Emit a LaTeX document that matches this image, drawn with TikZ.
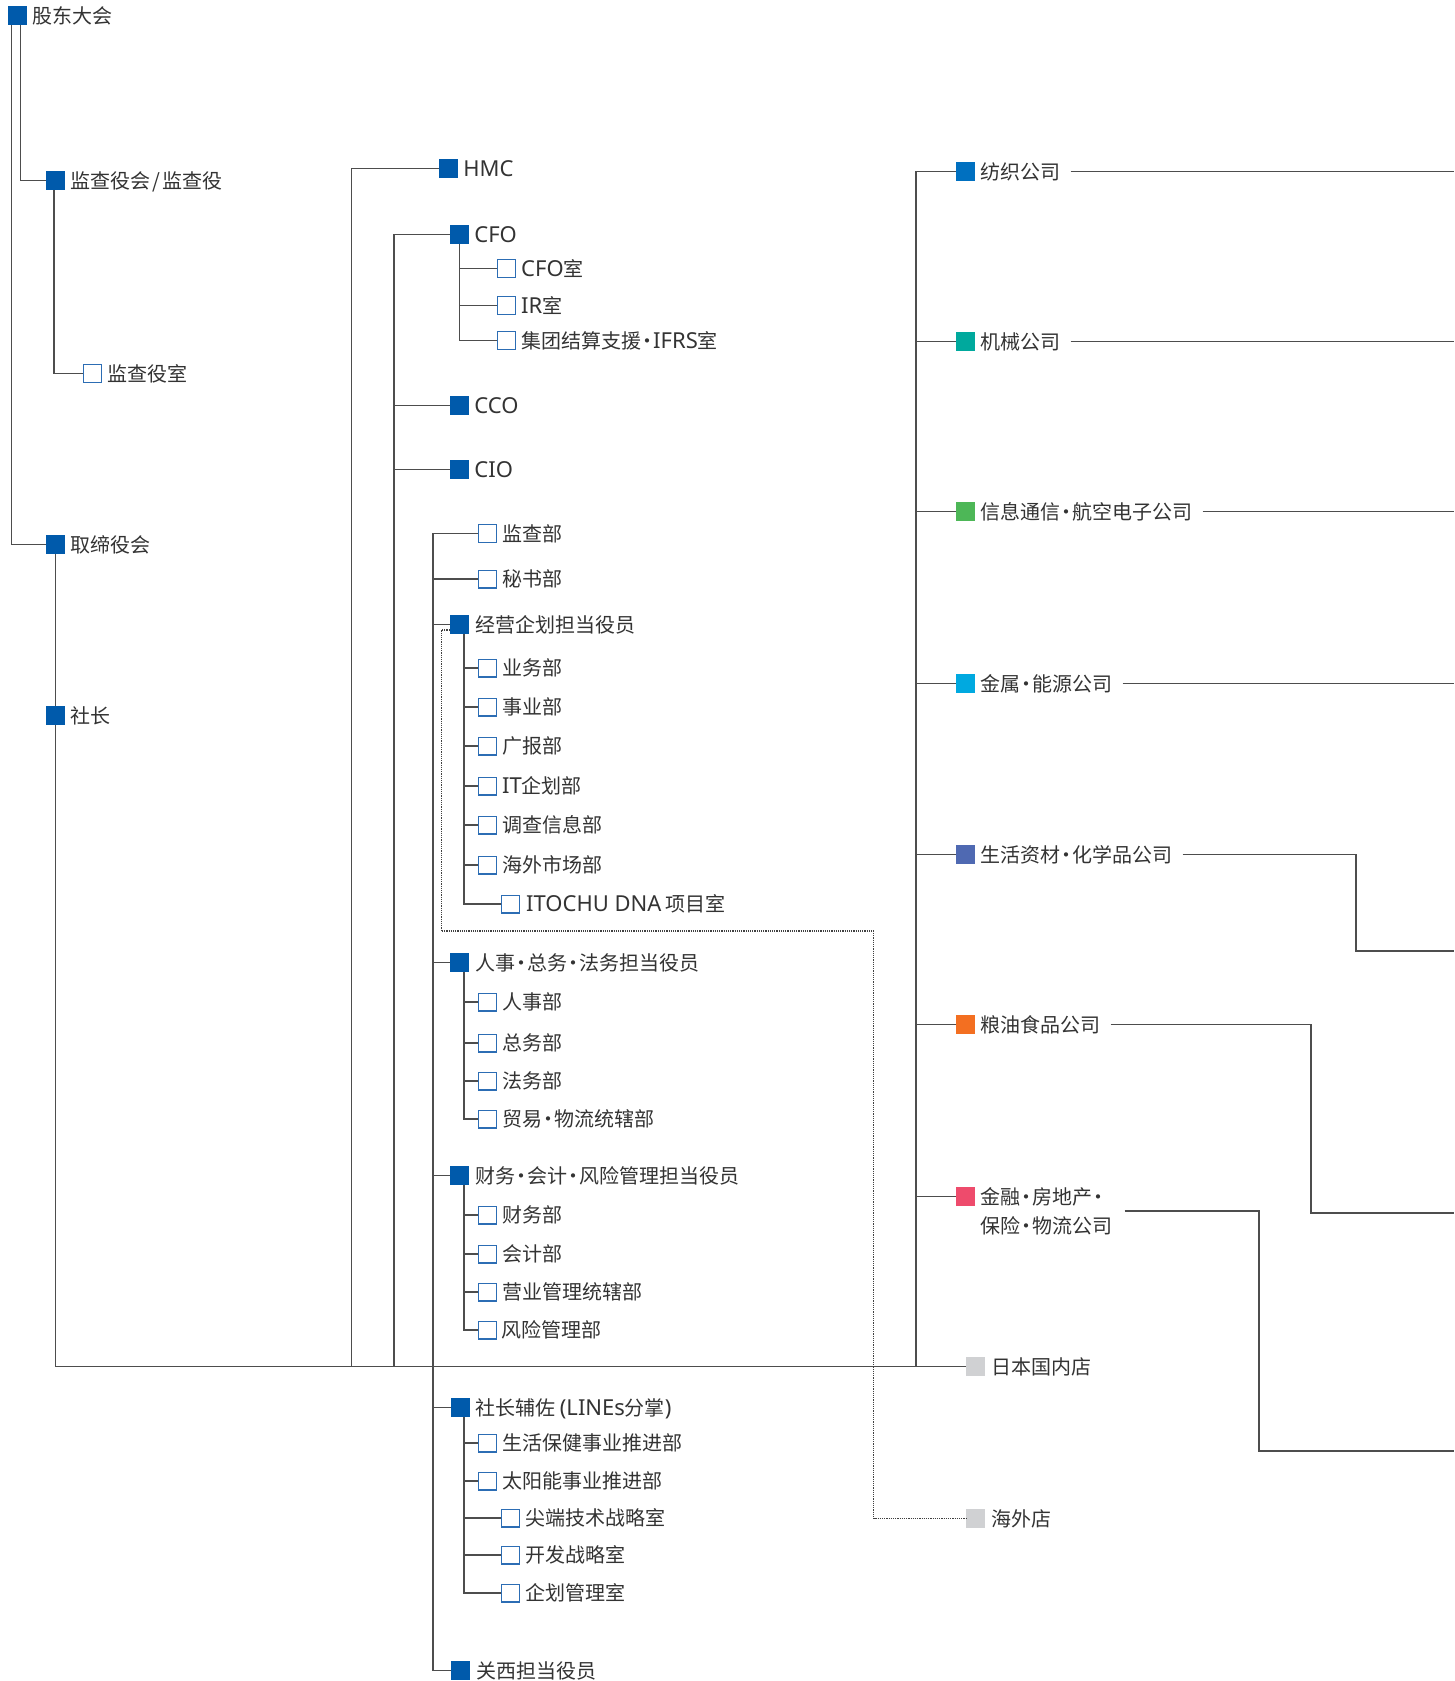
\documentclass[tikz,border=0pt]{standalone}
\usepackage{fontspec}
\setmainfont{Noto Sans CJK SC}
\newfontfamily\lat[Scale=1.1]{Noto Sans}
\usetikzlibrary{positioning}

\definecolor{itcblue}{HTML}{005AAB}
\definecolor{boxblue}{HTML}{2C6DB4}
\definecolor{linegray}{HTML}{4D4D4D}
\definecolor{txtgray}{HTML}{333333}
\definecolor{cfibre}{HTML}{0070C0}
\definecolor{cmach}{HTML}{00A99D}
\definecolor{cict}{HTML}{4DB757}
\definecolor{cmetal}{HTML}{00A9E0}
\definecolor{cchem}{HTML}{4F69B2}
\definecolor{cfood}{HTML}{F36F21}
\definecolor{cfin}{HTML}{EE4B6C}
\definecolor{cshop}{HTML}{D0D1D3}

% narrow middle dot
\newcommand{\mdot}{\makebox[0.6em]{·}}

\tikzset{
  headbox/.style={fill=itcblue, minimum size=19pt, inner sep=0pt},
  deptbox/.style={draw=boxblue, line width=1.4pt, fill=white, minimum size=17.6pt, inner sep=0pt},
  cobox/.style={fill=#1, minimum size=19pt, inner sep=0pt},
  lbl/.style={text=txtgray, inner sep=0pt, font=\fontsize{20pt}{29pt}\selectfont,
    text height=16.8pt, text depth=1.7pt},
  lbltwo/.style={text=txtgray, inner sep=0pt, font=\fontsize{20pt}{29pt}\selectfont, align=left},
  conn/.style={draw=linegray, line width=1.2pt},
  dotline/.style={draw=linegray!85!black, line width=1.2pt, densely dotted}
}

\begin{document}
\begin{tikzpicture}[x=1pt, y=-1pt]
    \useasboundingbox (0,0) rectangle (1454,1681);

    % shareholders, auditors, board
    \node[headbox] (gd) at (17.5,15.5) {};
    \node[lbl, right=5pt of gd] {股东大会};
    \node[headbox] (jsh) at (55.5,180.5) {};
    \node[lbl, right=5pt of jsh] {监查役会\kern2pt/\kern2pt监查役};
    \node[deptbox] (jss) at (92.5,373.5) {};
    \node[lbl, right=5pt of jss] {监查役室};
    \node[headbox] (qdh) at (55.5,544.5) {};
    \node[lbl, right=5pt of qdh] {取缔役会};
    \node[headbox] (sz) at (55.5,715.5) {};
    \node[lbl, right=5pt of sz] {社长};

    % officers
    \node[headbox] (hmc) at (448.5,168.5) {};
    \node[lbl, right=5pt of hmc] {\lat HMC};
    \node[headbox] (cfo) at (459.5,234.5) {};
    \node[lbl, right=5pt of cfo] {\lat CFO};
    \node[deptbox] (cfoshi) at (506.5,268.5) {};
    \node[lbl, right=5pt of cfoshi] {{\lat CFO}室};
    \node[deptbox] (irshi) at (506.5,305.5) {};
    \node[lbl, right=5pt of irshi] {{\lat IR}室};
    \node[deptbox] (ifrs) at (506.5,340.5) {};
    \node[lbl, right=5pt of ifrs] {集团结算支援\mdot{\lat IFRS}室};
    \node[headbox] (cco) at (459.5,405.5) {};
    \node[lbl, right=5pt of cco] {\lat CCO};
    \node[headbox] (cio) at (459.5,469.5) {};
    \node[lbl, right=5pt of cio] {\lat CIO};

    \node[deptbox] (jcb) at (487.5,533.5) {};
    \node[lbl, right=5pt of jcb] {监查部};
    \node[deptbox] (msb) at (487.5,579) {};
    \node[lbl, right=5pt of msb] {秘书部};

    \node[headbox] (jyqh) at (459.5,624.5) {};
    \node[lbl, right=6pt of jyqh] {经营企划担当役员};
    \node[deptbox] (ywb) at (487.5,668) {};
    \node[lbl, right=5pt of ywb] {业务部};
    \node[deptbox] (syb) at (487.5,707) {};
    \node[lbl, right=5pt of syb] {事业部};
    \node[deptbox] (gbb) at (487.5,746) {};
    \node[lbl, right=5pt of gbb] {广报部};
    \node[deptbox] (itb) at (487.5,786) {};
    \node[lbl, right=5pt of itb] {{\lat IT}企划部};
    \node[deptbox] (dcb) at (487.5,825) {};
    \node[lbl, right=5pt of dcb] {调查信息部};
    \node[deptbox] (hwsc) at (487.5,865) {};
    \node[lbl, right=5pt of hwsc] {海外市场部};
    \node[deptbox] (dna) at (510.5,904) {};
    \node[lbl, right=6pt of dna] {{\lat ITOCHU DNA} 项目室};

    \node[headbox] (rs) at (459.5,962.5) {};
    \node[lbl, right=6pt of rs] {人事\mdot 总务\mdot 法务担当役员};
    \node[deptbox] (rsb) at (487.5,1002) {};
    \node[lbl, right=5pt of rsb] {人事部};
    \node[deptbox] (zwb) at (487.5,1043) {};
    \node[lbl, right=5pt of zwb] {总务部};
    \node[deptbox] (fwb) at (487.5,1081) {};
    \node[lbl, right=5pt of fwb] {法务部};
    \node[deptbox] (myb) at (487.5,1119) {};
    \node[lbl, right=5pt of myb] {贸易\mdot 物流统辖部};

    \node[headbox] (cw) at (459.5,1175.5) {};
    \node[lbl, right=6pt of cw] {财务\mdot 会计\mdot 风险管理担当役员};
    \node[deptbox] (cwb) at (487.5,1215) {};
    \node[lbl, right=5pt of cwb] {财务部};
    \node[deptbox] (kjb) at (487.5,1254) {};
    \node[lbl, right=5pt of kjb] {会计部};
    \node[deptbox] (yyb) at (487.5,1292) {};
    \node[lbl, right=5pt of yyb] {营业管理统辖部};
    \node[deptbox] (fxb) at (487.5,1330) {};
    \node[lbl, right=4pt of fxb] {风险管理部};

    \node[headbox] (szfz) at (460.5,1407.5) {};
    \node[lbl, right=5pt of szfz] {社长辅佐 {\lat (LINEs}分掌{\lat )}};
    \node[deptbox] (shbj) at (487.5,1443) {};
    \node[lbl, right=5pt of shbj] {生活保健事业推进部};
    \node[deptbox] (tyn) at (487.5,1481) {};
    \node[lbl, right=5pt of tyn] {太阳能事业推进部};
    \node[deptbox] (jdjs) at (510.5,1518) {};
    \node[lbl, right=5pt of jdjs] {尖端技术战略室};
    \node[deptbox] (kfzl) at (510.5,1555) {};
    \node[lbl, right=5pt of kfzl] {开发战略室};
    \node[deptbox] (qhgl) at (510.5,1593) {};
    \node[lbl, right=5pt of qhgl] {企划管理室};

    \node[headbox] (kx) at (460.5,1670.5) {};
    \node[lbl, right=6pt of kx] {关西担当役员};

    % division companies and branches
    \node[cobox=cfibre] (fz) at (965.5,171.5) {};
    \node[lbl, right=5pt of fz] (fz-t) {纺织公司};
    \node[cobox=cmach] (jx) at (965.5,341.5) {};
    \node[lbl, right=5pt of jx] (jx-t) {机械公司};
    \node[cobox=cict] (xx) at (965.5,511.5) {};
    \node[lbl, right=5pt of xx] (xx-t) {信息通信\mdot 航空电子公司};
    \node[cobox=cmetal] (js) at (965.5,683.5) {};
    \node[lbl, right=5pt of js] (js-t) {金属\mdot 能源公司};
    \node[cobox=cchem] (sh) at (965.5,854.5) {};
    \node[lbl, right=5pt of sh] (sh-t) {生活资材\mdot 化学品公司};
    \node[cobox=cfood] (ly) at (965.5,1024.5) {};
    \node[lbl, right=5pt of ly] (ly-t) {粮油食品公司};
    \node[cobox=cfin] (jr) at (965.5,1196.5) {};
    \node[lbltwo, right=5pt of jr, yshift=-14.5pt] (jr-t) {金融\mdot 房地产\mdot\\保险\mdot 物流公司};
    \node[cobox=cshop] (nin) at (975.5,1366.5) {};
    \node[lbl, right=6pt of nin] {日本国内店};
    \node[cobox=cshop] (hw) at (975.5,1518.5) {};
    \node[lbl, right=6pt of hw] {海外店};

    \coordinate (hub-hmc) at (351.5,1366.5);
    \coordinate (hub-cfo) at (394,1366.5);
    \coordinate (spine) at (433,533.5);
    \coordinate (hub-co) at (916,1366.5);
    \coordinate (dotcorner) at (873.5,931);
    \coordinate (edge) at (1454,0);
    \coordinate (jyqh-l) at ([xshift=4.5pt]jyqh.south);
    \coordinate (rs-l) at ([xshift=4.5pt]rs.south);
    \coordinate (cw-l) at ([xshift=4.5pt]cw.south);
    \coordinate (szfz-l) at ([xshift=3.5pt]szfz.south);

    % left tree
    \draw[conn] ([xshift=4pt]gd.south west) |- (qdh.west);
    \draw[conn] ([xshift=13pt]gd.south west) |- (jsh.west);
    \draw[conn] ([xshift=-1.5pt]jsh.south) |- (jss.west);
    \draw[conn] (qdh.south) -- (sz.north);
    \draw[conn] (sz.south) |- (nin.west);

    % officer lines
    \draw[conn] (hmc.west) -| (hub-hmc);
    \draw[conn] (cfo.west) -| (hub-cfo);
    \draw[conn] (cco.west) -- (cco.west -| hub-cfo);
    \draw[conn] (cio.west) -- (cio.west -| hub-cfo);
    \draw[conn] (cfo.south) |- (ifrs.west);
    \draw[conn] (cfoshi.west) -- (cfoshi.west -| cfo.south);
    \draw[conn] (irshi.west) -- (irshi.west -| cfo.south);

    \draw[conn] (jcb.west) -- (spine) |- (kx.west);
    \draw[conn] (msb.west) -- (msb.west -| spine);
    \draw[conn] (jyqh.west) -- (jyqh.west -| spine);
    \draw[conn] (rs.west) -- (rs.west -| spine);
    \draw[conn] (cw.west) -- (cw.west -| spine);
    \draw[conn] (szfz.west) -- (szfz.west -| spine);

    \draw[conn] (jyqh-l) |- (dna.west);
    \draw[conn] (ywb.west) -- (ywb.west -| jyqh-l);
    \draw[conn] (syb.west) -- (syb.west -| jyqh-l);
    \draw[conn] (gbb.west) -- (gbb.west -| jyqh-l);
    \draw[conn] (itb.west) -- (itb.west -| jyqh-l);
    \draw[conn] (dcb.west) -- (dcb.west -| jyqh-l);
    \draw[conn] (hwsc.west) -- (hwsc.west -| jyqh-l);

    \draw[conn] (rs-l) |- (myb.west);
    \draw[conn] (rsb.west) -- (rsb.west -| rs-l);
    \draw[conn] (zwb.west) -- (zwb.west -| rs-l);
    \draw[conn] (fwb.west) -- (fwb.west -| rs-l);

    \draw[conn] (cw-l) |- (fxb.west);
    \draw[conn] (cwb.west) -- (cwb.west -| cw-l);
    \draw[conn] (kjb.west) -- (kjb.west -| cw-l);
    \draw[conn] (yyb.west) -- (yyb.west -| cw-l);

    \draw[conn] (szfz-l) |- (qhgl.west);
    \draw[conn] (shbj.west) -- (shbj.west -| szfz-l);
    \draw[conn] (tyn.west) -- (tyn.west -| szfz-l);
    \draw[conn] (jdjs.west) -- (jdjs.west -| szfz-l);
    \draw[conn] (kfzl.west) -- (kfzl.west -| szfz-l);

    % overseas branches
    \draw[dotline] ([yshift=-5.5pt]jyqh.west) -- ++(-8.5,0) |- (dotcorner) |- (hw.west);

    % companies
    \draw[conn] (fz.west) -| (hub-co);
    \draw[conn] (jx.west) -- (jx.west -| hub-co);
    \draw[conn] (xx.west) -- (xx.west -| hub-co);
    \draw[conn] (js.west) -- (js.west -| hub-co);
    \draw[conn] (sh.west) -- (sh.west -| hub-co);
    \draw[conn] (ly.west) -- (ly.west -| hub-co);
    \draw[conn] (jr.west) -- (jr.west -| hub-co);

    \draw[conn] ([xshift=10pt]fz-t.east) -- (fz-t.east -| edge);
    \draw[conn] ([xshift=10pt]jx-t.east) -- (jx-t.east -| edge);
    \draw[conn] ([xshift=10pt]xx-t.east) -- (xx-t.east -| edge);
    \draw[conn] ([xshift=10pt]js-t.east) -- (js-t.east -| edge);
    \coordinate (sh-bend) at (1356,951);
    \draw[conn] ([xshift=10pt]sh-t.east) -| (sh-bend) -- (sh-bend -| edge);
    \coordinate (ly-bend) at (1311,1213);
    \draw[conn] ([xshift=10pt]ly-t.east) -| (ly-bend) -- (ly-bend -| edge);
    \coordinate (jr-bend) at (1259,1451);
    \draw[conn] ([xshift=12pt]jr-t.east) -| (jr-bend) -- (jr-bend -| edge);
\end{tikzpicture}
\end{document}
